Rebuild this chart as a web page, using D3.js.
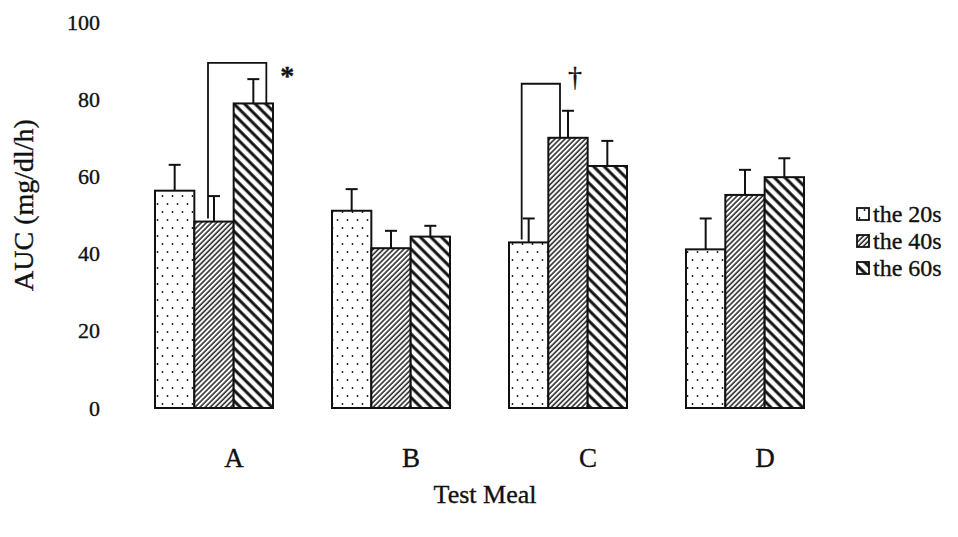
<!DOCTYPE html>
<html>
<head>
<meta charset="utf-8">
<script src="https://cdn.jsdelivr.net/npm/d3@7"></script>
<style>
  body { margin: 0; background: #fff; }
  svg { display: block; }
</style>
</head>
<body>
<svg id="chart" width="958" height="537"></svg>
<script>
// Test meals on the x axis, age groups as the bar series
const meals = ["A", "B", "C", "D"];
const ageGroups = ["the 20s", "the 40s", "the 60s"];

// Mean AUC (mg/dl/h) per meal for each age group
const auc20s = [56.3, 51.1, 42.9, 41.1];
const auc40s = [48.3, 41.4, 70.0, 55.2];
const auc60s = [78.9, 44.4, 62.7, 59.8];

// Upper error (SD) per meal for each age group
const sd20s = [6.7, 5.6, 6.2, 8.0];
const sd40s = [6.6, 4.5, 7.0, 6.5];
const sd60s = [6.3, 2.8, 6.5, 4.9];

const yTicks = [0, 20, 40, 60, 80, 100];

// Significant differences: meal, compared age groups, bracket level, marker
const sigMeals = ["A", "C"];
const sigPairs = [["the 40s", "the 60s"], ["the 20s", "the 40s"]];
const sigLevels = [89.4, 84.0];
const sigMarks = ["*", "\u2020"];

const meansBySeries = [auc20s, auc40s, auc60s];
const sdBySeries = [sd20s, sd40s, sd60s];
const rows = [];
meals.forEach((m, i) => {
  ageGroups.forEach((g, j) => {
    rows.push({ meal: m, group: g, mean: meansBySeries[j][i], sd: sdBySeries[j][i] });
  });
});
const lookup = (m, g) => rows.find(r => r.meal === m && r.group === g);

const FONT = "'Liberation Serif', 'Times New Roman', serif";
const INK = "#111";

const svg = d3.select("#chart")
  .attr("font-family", FONT);
svg.append("rect").attr("width", 958).attr("height", 537).attr("fill", "#fff");

// Printed text is slightly heavy, so give glyphs a hairline outline
const inked = sel => sel
  .attr("font-family", FONT)
  .attr("fill", INK)
  .attr("stroke", INK)
  .attr("stroke-width", 0.35);

// Fill patterns: dots, fine forward hatch, wide back hatch
const defs = svg.append("defs");
const dots = defs.append("pattern").attr("id", "pat-20s")
  .attr("patternUnits", "userSpaceOnUse").attr("width", 10).attr("height", 16);
dots.append("rect").attr("width", 10).attr("height", 16).attr("fill", "#fff");
dots.append("circle").attr("cx", 2.5).attr("cy", 4).attr("r", 0.9).attr("fill", INK);
dots.append("circle").attr("cx", 7.5).attr("cy", 12).attr("r", 0.9).attr("fill", INK);

const fine = defs.append("pattern").attr("id", "pat-40s")
  .attr("patternUnits", "userSpaceOnUse").attr("width", 3.6).attr("height", 10)
  .attr("patternTransform", "rotate(45)");
fine.append("rect").attr("width", 3.6).attr("height", 10).attr("fill", "#fff");
fine.append("line").attr("x1", 1).attr("x2", 1).attr("y1", 0).attr("y2", 10)
  .attr("stroke", INK).attr("stroke-width", 1.4);

const wide = defs.append("pattern").attr("id", "pat-60s")
  .attr("patternUnits", "userSpaceOnUse").attr("width", 7.5).attr("height", 10)
  .attr("patternTransform", "rotate(-45)");
wide.append("rect").attr("width", 7.5).attr("height", 10).attr("fill", "#fff");
wide.append("line").attr("x1", 2).attr("x2", 2).attr("y1", 0).attr("y2", 10)
  .attr("stroke", INK).attr("stroke-width", 3);

const patternFor = d3.scaleOrdinal().domain(ageGroups)
  .range(["url(#pat-20s)", "url(#pat-40s)", "url(#pat-60s)"]);

// Scales
const x0 = d3.scaleBand().domain(meals).range([155, 804]).paddingInner(1 / 3).paddingOuter(0);
const x1 = d3.scaleBand().domain(ageGroups).range([0, x0.bandwidth()]);
const y = d3.scaleLinear().domain([0, 100]).range([408, 22]);
const cx = d => x0(d.meal) + x1(d.group) + x1.bandwidth() / 2;

// Y axis (labels only)
const yAxis = svg.append("g").attr("transform", "translate(100,0)")
  .call(d3.axisLeft(y).tickValues(yTicks).tickSize(0).tickPadding(0).tickFormat(d3.format("d")));
yAxis.attr("font-family", FONT);
yAxis.select(".domain").remove();
yAxis.selectAll("text").call(inked).attr("font-size", 22);

svg.append("text")
  .attr("transform", "translate(33,205) rotate(-90)")
  .attr("text-anchor", "middle")
  .attr("font-size", 28)
  .call(inked)
  .text("AUC (mg/dl/h)");

// X axis (labels only)
const xAxis = svg.append("g").attr("transform", "translate(20,470)")
  .call(d3.axisBottom(x0).tickSize(0).tickPadding(0));
xAxis.attr("font-family", FONT);
xAxis.select(".domain").remove();
xAxis.selectAll("text").call(inked).attr("font-size", 27).attr("dy", "-0.1em");

svg.append("text")
  .attr("x", 485).attr("y", 503)
  .attr("text-anchor", "middle")
  .attr("font-size", 26)
  .call(inked)
  .text("Test Meal");

// Bars
svg.append("g").selectAll("rect").data(rows).join("rect")
  .attr("x", d => x0(d.meal) + x1(d.group))
  .attr("y", d => y(d.mean))
  .attr("width", x1.bandwidth())
  .attr("height", d => y(0) - y(d.mean))
  .attr("fill", d => patternFor(d.group))
  .attr("stroke", INK)
  .attr("stroke-width", 2);

// Error bars (upper only)
const err = svg.append("g").attr("stroke", INK).attr("stroke-width", 2);
err.selectAll("line.stem").data(rows).join("line").attr("class", "stem")
  .attr("x1", cx).attr("x2", cx)
  .attr("y1", d => y(d.mean)).attr("y2", d => y(d.mean + d.sd));
err.selectAll("line.cap").data(rows).join("line").attr("class", "cap")
  .attr("x1", d => cx(d) - 6).attr("x2", d => cx(d) + 6)
  .attr("y1", d => y(d.mean + d.sd)).attr("y2", d => y(d.mean + d.sd));

// Significance brackets and markers
const legShift = [[-6, 13], [-7, -8]];
const markShift = [[21, 22], [15, 2]];
const markSize = [28, 28];
sigMeals.forEach((m, i) => {
  const left = lookup(m, sigPairs[i][0]);
  const right = lookup(m, sigPairs[i][1]);
  const xl = cx(left) + legShift[i][0];
  const xr = cx(right) + legShift[i][1];
  const top = y(sigLevels[i]);
  svg.append("path")
    .attr("d", `M${xl},${y(left.mean) - 3}V${top}H${xr}V${y(right.mean)}`)
    .attr("fill", "none").attr("stroke", INK).attr("stroke-width", 1.8);
  svg.append("text")
    .attr("x", xr + markShift[i][0]).attr("y", top + markShift[i][1])
    .attr("text-anchor", "middle")
    .attr("font-size", markSize[i])
    .attr("font-weight", i === 0 ? "bold" : "normal")
    .call(inked)
    .text(sigMarks[i]);
});

// Legend
const legend = svg.append("g").selectAll("g").data(ageGroups).join("g")
  .attr("transform", (d, i) => `translate(857,${214 + i * 27})`);
legend.append("rect")
  .attr("x", 0).attr("y", -6).attr("width", 12).attr("height", 12)
  .attr("fill", d => patternFor(d)).attr("stroke", INK).attr("stroke-width", 1.8);
legend.append("text")
  .attr("x", 16).attr("y", 0).attr("dy", "0.35em")
  .attr("font-size", 24)
  .call(inked)
  .text(d => d);
</script>
</body>
</html>
